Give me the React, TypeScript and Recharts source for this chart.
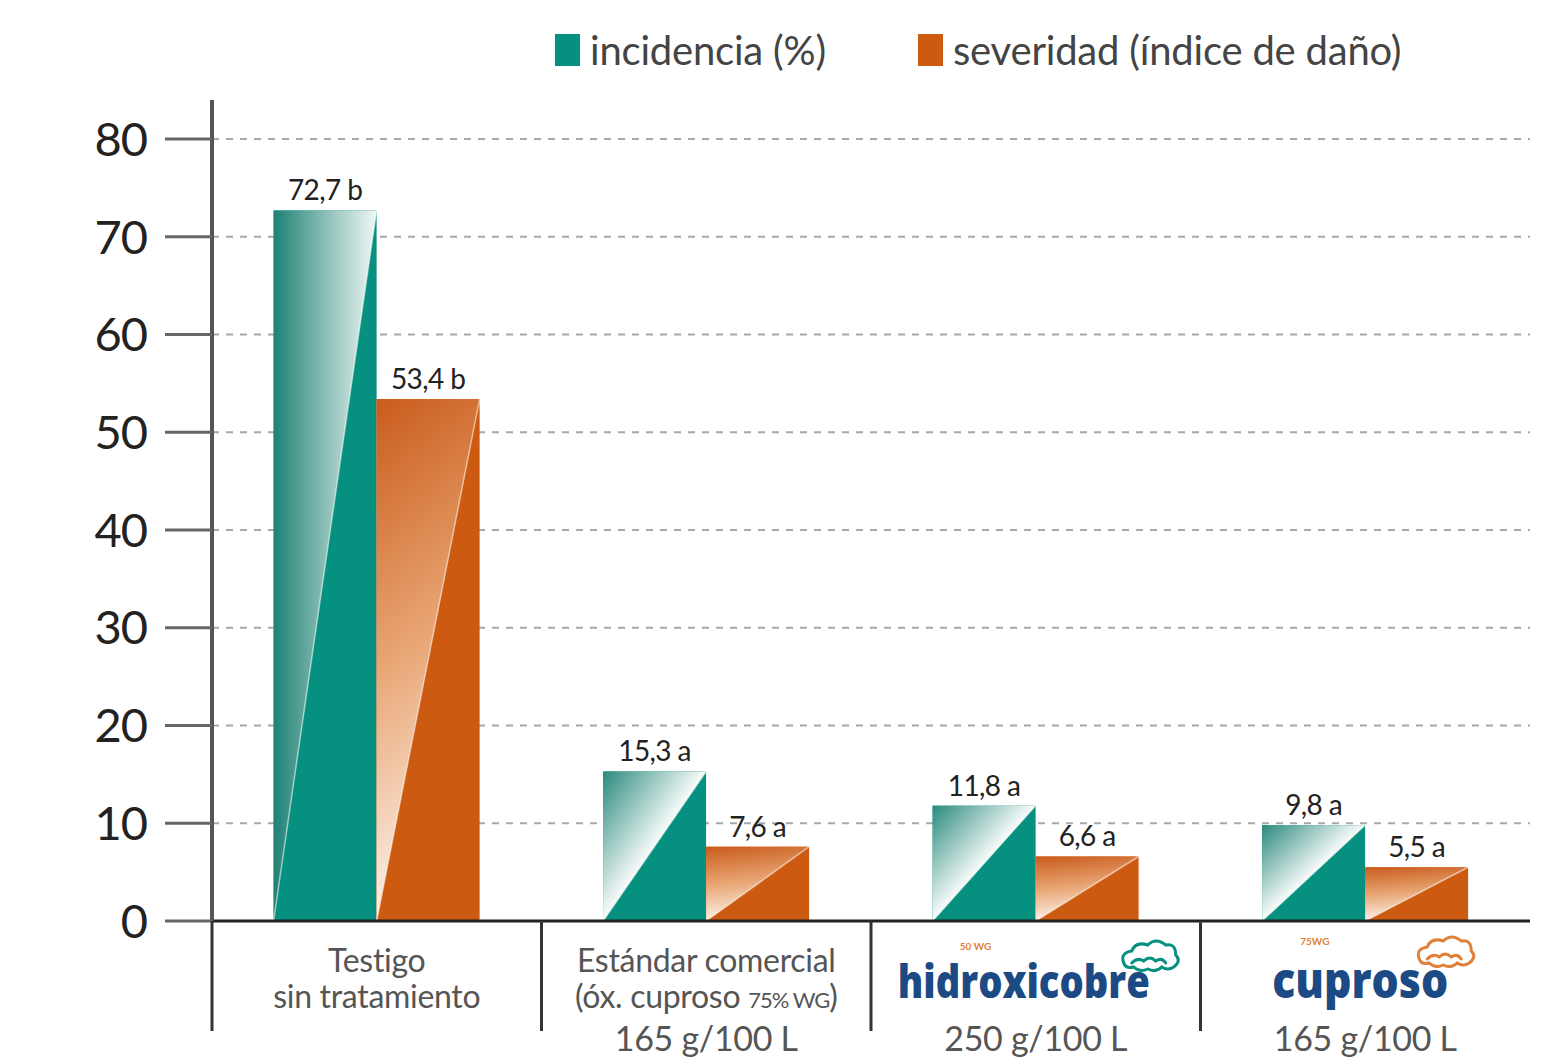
import { BarChart, Bar, XAxis, YAxis, CartesianGrid, LabelList } from 'recharts'

const categories = ['Testigo', 'Estándar comercial', 'hidroxicobre', 'cuproso']
const incidencia = [72.7, 15.3, 11.8, 9.8]
const severidad = [53.4, 7.6, 6.6, 5.5]
const incidenciaLetters = ['b', 'a', 'a', 'a']
const severidadLetters = ['b', 'a', 'a', 'a']
const descLines = [['Testigo', 'sin tratamiento'], ['Estándar comercial', '(óx. cuproso ', '75% WG', ')'], [], []]
const doseLabels = ['', '165 g/100 L', '250 g/100 L', '165 g/100 L']
const brandGrades = ['', '', '50 WG', '75WG']
const yTicks = [0, 10, 20, 30, 40, 50, 60, 70, 80]
const seriesNames = ['incidencia (%)', 'severidad (índice de daño)']

const TEAL = '#06907f'
const ORANGE = '#cc5a10'
const NAVY = '#1c4a84'
const FONT = 'Lato, "Open Sans", sans-serif'

const data = categories.map((name, i) => ({
  name,
  incidencia: incidencia[i],
  severidad: severidad[i],
}))

// tall bars get a left-to-right wash, short ones a corner-to-diagonal wash
function DiagBar(props: any) {
  const { x, y, width, height, fill, kind } = props
  if (!height || height <= 0) return null
  const tall = height / width > 3
  const grad = kind === 'teal' ? (tall ? 'gTealTall' : 'gTeal') : 'gOrange'
  return (
    <g>
      <rect x={x} y={y} width={width} height={height} fill={fill} />
      <polygon points={`${x},${y} ${x + width},${y} ${x},${y + height}`} fill={`url(#${grad})`} />
      <line x1={x + width} y1={y} x2={x} y2={y + height} stroke="#fff" strokeOpacity={0.55} strokeWidth={1.5} />
    </g>
  )
}

function valueLabel(letters: string[]) {
  return (props: any) => {
    const { x, y, width, value, index } = props
    return (
      <text
        x={x + width / 2}
        y={y - 10}
        textAnchor="middle"
        fontFamily={FONT}
        fontSize={28}
        letterSpacing={-0.6}
        fill="#222"
      >
        {String(value).replace('.', ',')} {letters[index]}
      </text>
    )
  }
}

function Cloud({ x, y, color }: { x: number; y: number; color: string }) {
  return (
    <g transform={`translate(${x},${y})`} fill="none" stroke={color} strokeWidth={3} strokeLinecap="round">
      <path d="M4,22 q-4,-10 8,-12 q4,-10 16,-6 q8,-8 18,0 q10,-2 10,10 q6,6 -2,12 q-6,4 -12,0 q-6,6 -14,2 q-8,4 -14,-2 q-8,2 -10,-4" />
      <path d="M12,22 q6,-6 12,-2 q6,-6 12,0 q6,-4 10,2" />
    </g>
  )
}

function CategoryTick(props: any) {
  const { x, y, payload, index } = props
  const i = index ?? payload.index
  const half = payload.offset ?? 164.75
  const lines = descLines[i]
  const sep = <line x1={x - half} y1={y} x2={x - half} y2={y + 110} stroke="#333" strokeWidth={3} />
  const txt = { fontFamily: FONT, fontSize: 32, fill: '#555', letterSpacing: -0.3, textAnchor: 'middle' as const }
  if (i === 0) {
    return (
      <g>
        {sep}
        <text x={x} y={y + 51} {...txt}>{lines[0]}</text>
        <text x={x} y={y + 87} {...txt}>{lines[1]}</text>
      </g>
    )
  }
  if (i === 1) {
    return (
      <g>
        {sep}
        <text x={x} y={y + 51} {...txt}>{lines[0]}</text>
        <text x={x} y={y + 87} {...txt}>
          {lines[1]}
          <tspan fontSize={22} letterSpacing={-1}>{lines[2]}</tspan>
          {lines[3]}
        </text>
        <text x={x} y={y + 130} {...txt} fontSize={34}>{doseLabels[i]}</text>
      </g>
    )
  }
  const isHidro = i === 2
  const color = isHidro ? TEAL : '#e0803a'
  const w = isHidro ? 252 : 176
  const left = isHidro ? x - 138 : x - 93
  return (
    <g>
      {sep}
      <text
        x={left}
        y={y + 77}
        fontFamily='"Open Sans", sans-serif'
        fontWeight={800}
        fontSize={isHidro ? 46 : 50}
        fill={NAVY}
        textLength={w}
        lengthAdjust="spacingAndGlyphs"
      >
        {categories[i]}
      </text>
      <text
        x={isHidro ? left + 62 : left + 28}
        y={y + (isHidro ? 29 : 24)}
        fontFamily={FONT}
        fontWeight={700}
        fontSize={10}
        fill="#e0803a"
      >
        {brandGrades[i]}
      </text>
      <Cloud x={isHidro ? x + 84 : x + 50} y={y + (isHidro ? 20 : 16)} color={color} />
      <text x={x} y={y + 130} {...txt} fontSize={34}>{doseLabels[i]}</text>
    </g>
  )
}

function App() {
  const legendColors = [TEAL, ORANGE]
  const legendLeft = [555, 918]
  return (
    <div style={{ position: 'absolute', left: 0, top: 0, width: 1547, height: 1059, background: '#fff' }}>
      {seriesNames.map((n, i) => (
        <div
          key={n}
          style={{
            position: 'absolute',
            top: 26,
            left: legendLeft[i],
            display: 'flex',
            alignItems: 'center',
            fontFamily: FONT,
            fontSize: 40,
            letterSpacing: -0.2,
            color: '#444',
            zIndex: 2,
            whiteSpace: 'nowrap',
          }}
        >
          <span style={{ display: 'inline-block', width: 25, height: 32, background: legendColors[i], marginRight: 10 }} />
          <span>{n}</span>
        </div>
      ))}
      <BarChart
        width={1547}
        height={1059}
        data={data}
        margin={{ top: 100, right: 17, bottom: 0, left: 0 }}
        barCategoryGap="18.7%"
        barGap={0}
      >
        <defs>
          <linearGradient id="gTeal" x1="0" y1="0" x2="0.5" y2="0.5">
            <stop offset="0" stopColor="#2a8a7e" />
            <stop offset="0.55" stopColor="#9cc8c1" />
            <stop offset="1" stopColor="#f7fbfa" />
          </linearGradient>
          <linearGradient id="gTealTall" x1="0" y1="0" x2="1" y2="0">
            <stop offset="0" stopColor="#1f8174" />
            <stop offset="0.6" stopColor="#9fcac3" />
            <stop offset="1" stopColor="#eef7f5" />
          </linearGradient>
          <linearGradient id="gOrange" x1="0" y1="0" x2="0.15" y2="1">
            <stop offset="0" stopColor="#c95c1c" />
            <stop offset="0.5" stopColor="#e8a472" />
            <stop offset="1" stopColor="#fdf3ec" />
          </linearGradient>
        </defs>
        <CartesianGrid
          vertical={false}
          horizontalValues={yTicks}
          stroke="#a8a8a8"
          strokeWidth={2}
          strokeDasharray="7 7"
        />
        <XAxis
          dataKey="name"
          height={138}
          interval={0}
          tickLine={false}
          tickSize={0}
          tickMargin={0}
          axisLine={{ stroke: '#222', strokeWidth: 3 }}
          tick={<CategoryTick />}
        />
        <YAxis
          width={212}
          domain={[0, 84]}
          ticks={yTicks}
          interval={0}
          tickSize={47}
          tickMargin={18}
          axisLine={{ stroke: '#555', strokeWidth: 4 }}
          tickLine={{ stroke: '#666', strokeWidth: 3 }}
          tick={{ fill: '#222', fontSize: 47, fontFamily: FONT, letterSpacing: -1 }}
        />
        <Bar
          dataKey="incidencia"
          fill={TEAL}
          isAnimationActive={false}
          shape={(p: any) => <DiagBar {...p} kind="teal" />}
        >
          <LabelList dataKey="incidencia" content={valueLabel(incidenciaLetters)} />
        </Bar>
        <Bar
          dataKey="severidad"
          fill={ORANGE}
          isAnimationActive={false}
          shape={(p: any) => <DiagBar {...p} kind="orange" />}
        >
          <LabelList dataKey="severidad" content={valueLabel(severidadLetters)} />
        </Bar>
      </BarChart>
    </div>
  )
}

export default App
